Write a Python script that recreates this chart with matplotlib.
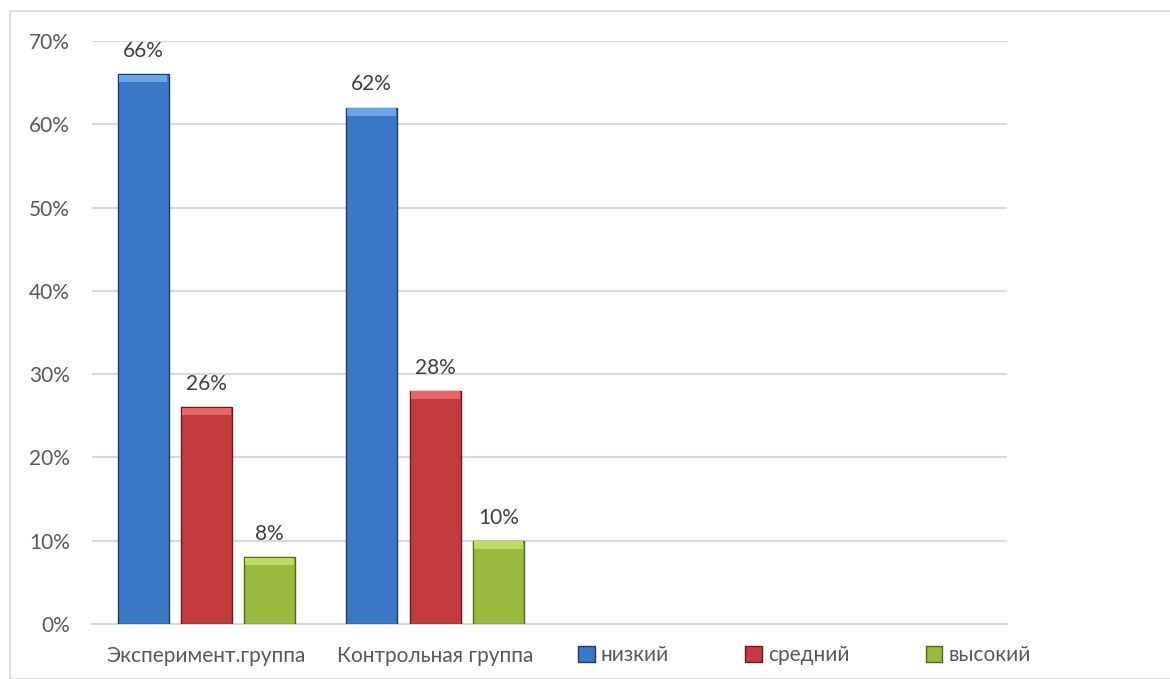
import matplotlib
matplotlib.use("Agg")
import matplotlib.pyplot as plt
from matplotlib.patches import Rectangle, Patch
from matplotlib.ticker import PercentFormatter
import numpy as np

categories = ["Эксперимент.группа", "Контрольная группа", "", ""]
series_names = ["низкий", "средний", "высокий"]
nizkiy = [0.66, 0.62, None, None]
sredniy = [0.26, 0.28, None, None]
vysokiy = [0.08, 0.10, None, None]
yticks = [0, 0.1, 0.2, 0.3, 0.4, 0.5, 0.6, 0.7]

face_colors = ["#3A78C6", "#C33B3C", "#99BA3F"]
edge_colors = ["#1E3C68", "#6E1A1B", "#4F6620"]
top_colors = ["#6FA3E3", "#E0696A", "#BEDB6A"]

plt.rcParams['font.family'] = ['Lato', 'DejaVu Sans']
text_color = "#595959"
fs = 15

fig = plt.figure(figsize=(11.7, 6.79), dpi=100)
ax = fig.add_axes([92/1170, 1-624/679, (1007-92)/1170, (624-41)/679])

# figure border
fig.patches.append(Rectangle((10/1170, 0), 1.0, 1-11/679, transform=fig.transFigure,
                             fill=False, edgecolor="#D9D9D9", linewidth=1.2))

x = np.arange(len(categories))
width = 0.223
step = 0.277
data = [nizkiy, sredniy, vysokiy]
for i, (vals, name) in enumerate(zip(data, series_names)):
    xs = [xi + (i - 1) * step for xi, v in zip(x, vals) if v is not None]
    vs = [v for v in vals if v is not None]
    bars = ax.bar(xs, vs, width=width, color=face_colors[i], edgecolor=edge_colors[i],
                  linewidth=1.0, zorder=3)
    # bevel highlight at top of each bar
    ax.bar(xs, [0.009] * len(vs), bottom=[v - 0.0095 for v in vs], width=width * 0.96,
           color=top_colors[i], linewidth=0, zorder=4)
    for b, v in zip(bars, vs):
        ax.annotate(f"{int(round(v*100))}%", (b.get_x() + b.get_width() / 2, v),
                    xytext=(0, 9.5), textcoords="offset points", ha="center", va="bottom",
                    fontsize=fs, color="#404040")

ax.set_xlim(-0.5, len(categories) - 0.5)
ax.set_ylim(0, 0.7)
ax.set_yticks(yticks)
ax.yaxis.set_major_formatter(PercentFormatter(1.0, decimals=0))
ax.set_xticks(x)
ax.set_xticklabels(categories)
ax.tick_params(axis="both", length=0, labelsize=fs, labelcolor=text_color)
ax.tick_params(axis="y", pad=16)
ax.tick_params(axis="x", pad=16)
ax.grid(axis="y", color="#D9D9D9", linewidth=1.5, zorder=0)
for s in ["top", "right", "left"]:
    ax.spines[s].set_visible(False)
ax.spines["bottom"].set_color("#D9D9D9")
ax.spines["bottom"].set_linewidth(1.5)

handles = [Patch(facecolor=face_colors[i], edgecolor=edge_colors[i]) for i in range(3)]
fig.legend(handles, series_names, loc="center left", bbox_to_anchor=(578/1170, 1-655/679),
           ncol=3, frameon=False, fontsize=fs, labelcolor=text_color,
           handlelength=0.8, handleheight=0.8, handletextpad=0.3, columnspacing=3.65,
           borderaxespad=0, borderpad=0)

fig.savefig("out.png", dpi=100)
